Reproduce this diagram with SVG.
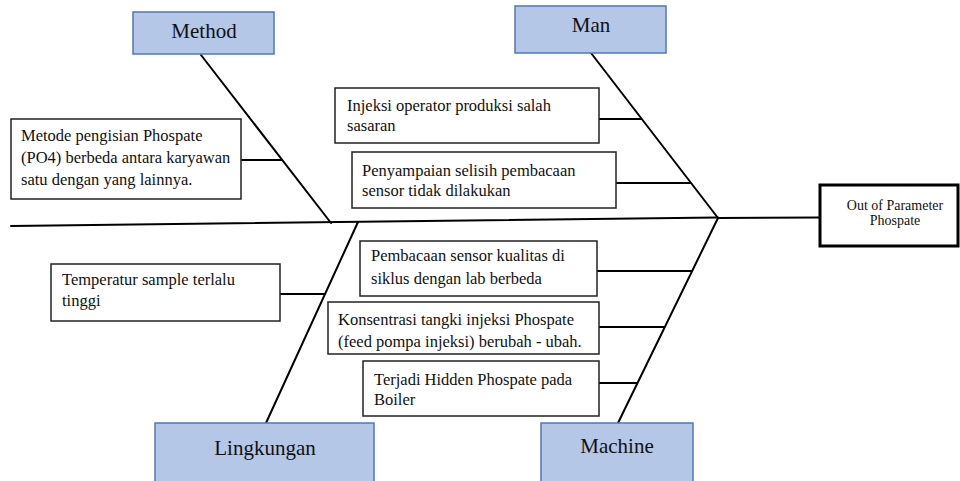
<svg xmlns="http://www.w3.org/2000/svg" width="960" height="481" viewBox="0 0 960 481">
  <style>
    .cat rect { fill: #b4c7e7; stroke: #5277b8; stroke-width: 1.5; }
    .cat text { font-size: 21px; fill: #111; text-anchor: middle; }
    .cause rect { fill: #fff; stroke: #222; stroke-width: 1.5; }
    .cause text { font-size: 16.5px; fill: #111; }
    .effect rect { fill: #fff; stroke: #000; stroke-width: 3; }
    .effect text { font-size: 14px; fill: #111; text-anchor: middle; }
    .bone { stroke: #000; stroke-width: 2; fill: none; stroke-linecap: round; }
    .twig { stroke: #000; stroke-width: 2; fill: none; }
  </style>

  <!-- spine, main bones and twigs -->
  <g id="connectors">
    <line class="bone" x1="11" y1="226" x2="718" y2="217.5"/>
    <line class="bone" x1="718" y1="218" x2="820" y2="217.5"/>
    <line class="bone" x1="201" y1="55" x2="331" y2="223"/>
    <line class="bone" x1="591" y1="53" x2="718" y2="218"/>
    <line class="bone" x1="358" y1="222" x2="266" y2="423"/>
    <line class="bone" x1="718" y1="218" x2="618" y2="423"/>
    <line class="twig" x1="241" y1="160" x2="282" y2="160"/>
    <line class="twig" x1="599" y1="119" x2="642" y2="119"/>
    <line class="twig" x1="616" y1="183" x2="691" y2="183"/>
    <line class="twig" x1="597" y1="271" x2="692" y2="271"/>
    <line class="twig" x1="599" y1="327" x2="665" y2="327"/>
    <line class="twig" x1="599" y1="383" x2="637" y2="383"/>
    <line class="twig" x1="280" y1="294" x2="325" y2="294"/>
  </g>

  <g font-family="'Liberation Serif', 'Times New Roman', serif">
    <!-- category headers -->
    <g id="method" class="cat">
      <rect x="133" y="12" width="141" height="42"/>
      <text x="204" y="38">Method</text>
    </g>
    <g id="man" class="cat">
      <rect x="515" y="6" width="151" height="47"/>
      <text x="591" y="32">Man</text>
    </g>
    <g id="lingkungan" class="cat">
      <rect x="155" y="423" width="219" height="70"/>
      <text x="265" y="455">Lingkungan</text>
    </g>
    <g id="machine" class="cat">
      <rect x="541" y="423" width="152" height="70"/>
      <text x="617" y="453">Machine</text>
    </g>

    <!-- effect -->
    <g id="effect" class="effect">
      <rect x="820" y="185" width="138" height="61"/>
      <text x="895" y="210">Out of Parameter</text>
      <text x="895" y="225">Phospate</text>
    </g>

    <!-- causes -->
    <g id="cause-method-1" class="cause">
      <rect x="11" y="119" width="230" height="80"/>
      <text x="21" y="141">Metode pengisian Phospate</text>
      <text x="21" y="163">(PO4) berbeda antara karyawan</text>
      <text x="21" y="185">satu dengan yang lainnya.</text>
    </g>
    <g id="cause-man-1" class="cause">
      <rect x="335" y="88" width="264" height="55"/>
      <text x="347" y="111">Injeksi operator produksi salah</text>
      <text x="347" y="131">sasaran</text>
    </g>
    <g id="cause-man-2" class="cause">
      <rect x="352" y="152" width="264" height="56"/>
      <text x="362" y="176">Penyampaian selisih pembacaan</text>
      <text x="362" y="196">sensor tidak dilakukan</text>
    </g>
    <g id="cause-machine-1" class="cause">
      <rect x="360" y="241" width="237" height="55"/>
      <text x="371" y="261">Pembacaan sensor kualitas di</text>
      <text x="371" y="284">siklus dengan lab berbeda</text>
    </g>
    <g id="cause-machine-2" class="cause">
      <rect x="328" y="302" width="271" height="52"/>
      <text x="338" y="325">Konsentrasi tangki injeksi Phospate</text>
      <text x="338" y="347">(feed pompa injeksi) berubah - ubah.</text>
    </g>
    <g id="cause-machine-3" class="cause">
      <rect x="363" y="361" width="236" height="55"/>
      <text x="374" y="385">Terjadi Hidden Phospate pada</text>
      <text x="374" y="405">Boiler</text>
    </g>
    <g id="cause-lingkungan-1" class="cause">
      <rect x="51" y="264" width="229" height="57"/>
      <text x="62" y="285">Temperatur sample terlalu</text>
      <text x="62" y="306">tinggi</text>
    </g>
  </g>
</svg>
